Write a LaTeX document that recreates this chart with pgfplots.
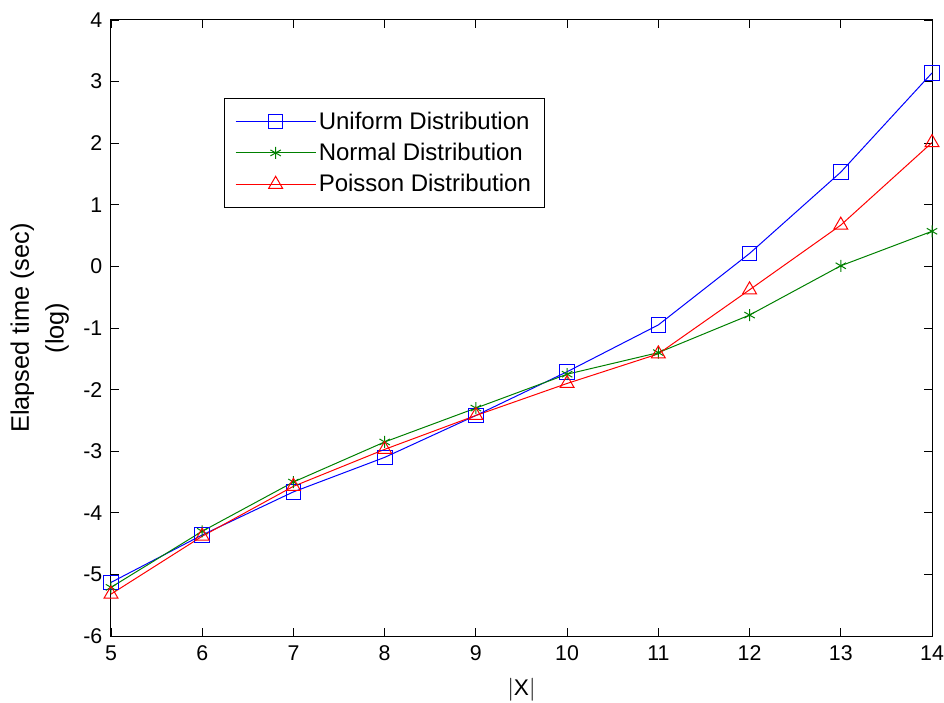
\documentclass[border=0pt]{standalone}
\usepackage{pgfplots}
\pgfplotsset{compat=1.18}
\usepackage{fontspec}
\setmainfont{Liberation Sans}
\usetikzlibrary{plotmarks}
\definecolor{mgreen}{RGB}{0,128,0}
\begin{document}
\begin{tikzpicture}
\begin{axis}[
  scale only axis,
  width=615.75pt, height=462pt,
  xmin=5, xmax=14, ymin=-6, ymax=4,
  xtick={5,...,14}, ytick={-6,...,4},
  tick align=inside, major tick length=6pt,
  tick style={black, line width=0.6pt},
  axis line style={black, line width=0.75pt},
  tick label style={font=\fontsize{16}{18}\selectfont},
  yticklabel style={xshift=-3pt},
  xticklabel style={yshift=-4pt},
  /pgf/number format/assume math mode=true,
  xlabel={$|$X$|$},
  ylabel={Elapsed time (sec)\\(log)},
  label style={font=\fontsize{17}{17}\selectfont},
  ylabel style={align=center, yshift=4pt, font=\fontsize{19}{26}\selectfont},
  xlabel style={yshift=-6pt},
  clip=false,
  legend style={at={(0.1376,0.8734)}, anchor=north west, draw=black, line width=0.75pt,
    font=\fontsize{18}{18}\selectfont, row sep=5pt, inner ysep=8pt, inner xsep=8pt},
  legend cell align=left,
  legend image code/.code={\draw[mark repeat=2,mark phase=2] plot coordinates {(0pt,0pt) (30pt,0pt) (60pt,0pt)};},
]
\addplot[color=blue, line width=0.75pt, mark=square, mark size=5.5pt, mark options={solid, draw=blue}]
 coordinates {(5,-5.13) (6,-4.36) (7,-3.66) (8,-3.10) (9,-2.42) (10,-1.71) (11,-0.95) (12,0.21) (13,1.53) (14,3.14)};
\addlegendentry{Uniform Distribution}
\addplot[color=mgreen, line width=0.75pt, mark=asterisk, mark size=4.5pt, mark options={draw=mgreen}]
 coordinates {(5,-5.21) (6,-4.30) (7,-3.50) (8,-2.85) (9,-2.30) (10,-1.75) (11,-1.40) (12,-0.79) (13,0.01) (14,0.57)};
\addlegendentry{Normal Distribution}
\addplot[color=red, line width=0.75pt, mark=triangle, mark size=6pt, mark options={draw=red}]
 coordinates {(5,-5.32) (6,-4.38) (7,-3.57) (8,-2.97) (9,-2.42) (10,-1.90) (11,-1.42) (12,-0.38) (13,0.67) (14,2.01)};
\addlegendentry{Poisson Distribution}
\end{axis}
\pgfresetboundingbox
\path (current axis.south west) ++(-83.25pt,-49.5pt) coordinate (bl);
\path (current axis.north east) ++(9pt,15pt) coordinate (tr);
\path[use as bounding box] (bl) rectangle (tr);
\end{tikzpicture}
\end{document}
